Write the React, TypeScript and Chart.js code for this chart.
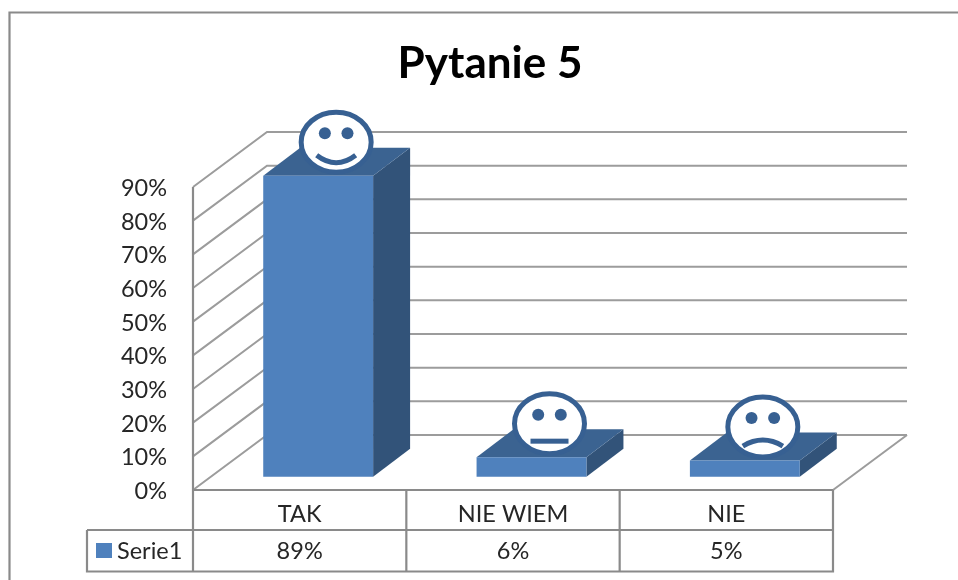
import React, { useEffect, useRef } from "react";
import { Chart, registerables } from "chart.js";

Chart.register(...registerables);

const titleText = "Pytanie 5";
const seriesName = "Serie1";
const categories = ["TAK", "NIE WIEM", "NIE"];
const values = [89.4, 5.8, 4.8];
const moods = ["smile", "neutral", "frown"];

const FONT = "Lato, Carlito, Calibri, sans-serif";
const LABEL_SIZE = 23.5;
const TEXT = "#262626";
const GRID = "#9c9c9c";
const FRAME = "#8a8a8a";
const FRONT = "#4f81bd";
const TOP = "#3b6391";
const SIDE = "#325379";
const FACE = "#376092";

// projection of the pseudo-3D box
const WALL_DX = 74;
const WALL_DY = -55;
const BAR_DX = 18.5;
const BAR_DY = -13.3;
const DEPTH_DX = 37;
const DEPTH_DY = -28;

function line(ctx: CanvasRenderingContext2D, pts: number[][], color: string, w: number) {
  ctx.beginPath();
  pts.forEach((p, i) => (i ? ctx.lineTo(p[0], p[1]) : ctx.moveTo(p[0], p[1])));
  ctx.strokeStyle = color;
  ctx.lineWidth = w;
  ctx.stroke();
}

function poly(ctx: CanvasRenderingContext2D, pts: number[][], color: string) {
  ctx.beginPath();
  pts.forEach((p, i) => (i ? ctx.lineTo(p[0], p[1]) : ctx.moveTo(p[0], p[1])));
  ctx.closePath();
  ctx.fillStyle = color;
  ctx.fill();
}

function drawFace(ctx: CanvasRenderingContext2D, cx: number, cy: number, mood: string) {
  ctx.save();
  ctx.beginPath();
  ctx.ellipse(cx, cy, 35, 30, 0, 0, Math.PI * 2);
  ctx.fillStyle = "#ffffff";
  ctx.fill();
  ctx.strokeStyle = FACE;
  ctx.lineWidth = 5;
  ctx.stroke();
  ctx.fillStyle = FACE;
  [-11.3, 11.3].forEach((dx) => {
    ctx.beginPath();
    ctx.arc(cx + dx, cy - 9, 6, 0, Math.PI * 2);
    ctx.fill();
  });
  ctx.lineWidth = 5;
  ctx.beginPath();
  if (mood === "smile") {
    ctx.moveTo(cx - 19.5, cy + 13);
    ctx.quadraticCurveTo(cx, cy + 28, cx + 19.5, cy + 13);
    ctx.stroke();
  } else if (mood === "neutral") {
    ctx.fillRect(cx - 19, cy + 15, 38, 5);
  } else {
    ctx.moveTo(cx - 20, cy + 19);
    ctx.quadraticCurveTo(cx, cy + 7, cx + 20, cy + 19);
    ctx.stroke();
  }
  ctx.restore();
}

const box3d = {
  id: "box3d",
  beforeDatasetsDraw(chart: any) {
    const { ctx, chartArea: a, scales } = chart;
    const y = scales.y;
    ctx.save();
    // gridlines folded along the side wall and the back wall
    y.ticks.forEach((t: any) => {
      const py = y.getPixelForValue(t.value);
      line(ctx, [[a.left, py], [a.left + WALL_DX, py + WALL_DY], [a.right + WALL_DX, py + WALL_DY]], GRID, 2);
    });
    // floor edge on the right
    line(ctx, [[a.right, a.bottom], [a.right + WALL_DX, a.bottom + WALL_DY]], GRID, 2);
    // side and top of every bar
    chart.getDatasetMeta(0).data.forEach((b: any) => {
      const l = b.x - b.width / 2 + BAR_DX;
      const r = b.x + b.width / 2 + BAR_DX;
      const t = b.y + BAR_DY;
      const bot = b.base + BAR_DY;
      poly(ctx, [[r, t], [r + DEPTH_DX, t + DEPTH_DY], [r + DEPTH_DX, bot + DEPTH_DY], [r, bot]], SIDE);
      poly(ctx, [[l, t], [l + DEPTH_DX, t + DEPTH_DY], [r + DEPTH_DX, t + DEPTH_DY], [r, t]], TOP);
    });
    ctx.restore();
    ctx.save();
    ctx.translate(BAR_DX, BAR_DY);
  },
  afterDatasetsDraw(chart: any) {
    const { ctx } = chart;
    ctx.restore();
    chart.getDatasetMeta(0).data.forEach((b: any, i: number) => {
      drawFace(ctx, b.x + BAR_DX + 18, b.y + BAR_DY - 33.5, moods[i]);
    });
  },
  afterDraw(chart: any) {
    const { ctx, chartArea: a, scales, width, height } = chart;
    const x = scales.x;
    const row1 = a.bottom + 40;
    const row2 = a.bottom + 81.5;
    const keyLeft = 87;
    const step = (a.right - a.left) / categories.length;
    ctx.save();
    // outer frame
    line(ctx, [[9.5, height], [9.5, 12.5], [width, 12.5]], FRAME, 2.2);
    // data table
    line(ctx, [[a.left, a.top], [a.left, row2]], FRAME, 2.2);
    line(ctx, [[a.left, a.bottom], [a.right, a.bottom]], FRAME, 2.2);
    line(ctx, [[keyLeft, row1], [a.right, row1]], FRAME, 2.2);
    line(ctx, [[keyLeft, row1], [keyLeft, row2], [a.right, row2], [a.right, a.bottom]], FRAME, 2.2);
    categories.forEach((_, i) => {
      if (i) line(ctx, [[a.left + step * i, a.bottom], [a.left + step * i, row2]], FRAME, 2.2);
    });
    ctx.fillStyle = FRONT;
    ctx.fillRect(96, row1 + 13, 16, 15);
    ctx.fillStyle = TEXT;
    ctx.font = `${LABEL_SIZE}px ${FONT}`;
    ctx.textBaseline = "middle";
    ctx.textAlign = "left";
    ctx.fillText(seriesName, 117, row1 + 21);
    ctx.textAlign = "center";
    values.forEach((v, i) => {
      ctx.fillText(`${Math.round(v)}%`, x.getPixelForTick(i), row1 + 21);
    });
    ctx.restore();
  },
};

export default function App() {
  const ref = useRef<HTMLCanvasElement | null>(null);
  useEffect(() => {
    const chart = new Chart(ref.current as HTMLCanvasElement, {
      type: "bar",
      data: {
        labels: categories,
        datasets: [
          {
            label: seriesName,
            data: values,
            backgroundColor: FRONT,
            borderWidth: 0,
            categoryPercentage: 1,
            barPercentage: 0.515,
            clip: false,
            yAxisID: "y",
          } as any,
        ],
      },
      plugins: [box3d],
      options: {
        animation: false,
        responsive: false,
        layout: { padding: { left: 22, right: 0, top: 0, bottom: 0 } },
        plugins: {
          legend: { display: false },
          tooltip: { enabled: false },
          title: {
            display: true,
            text: titleText,
            color: "#000000",
            font: { family: FONT, size: 44, weight: "bold", lineHeight: 1.2 },
            padding: { top: 37, bottom: 97.2 },
          },
        },
        scales: {
          x: {
            grid: { display: false, drawTicks: false },
            border: { display: false },
            afterFit(s: any) {
              s.height = 90;
            },
            ticks: {
              color: TEXT,
              font: { family: FONT, size: LABEL_SIZE },
              padding: 10,
              maxRotation: 0,
            },
          },
          y: {
            min: 0,
            max: 90,
            grid: { display: false, drawTicks: false },
            border: { display: false },
            afterFit(s: any) {
              s.width = 171;
            },
            ticks: {
              stepSize: 10,
              color: TEXT,
              font: { family: FONT, size: LABEL_SIZE },
              padding: 26,
              labelOffset: 1.5,
              callback: (v: any) => `${v}%`,
            },
          },
          spacer: {
            position: "right",
            grid: { display: false, drawTicks: false },
            border: { display: false },
            ticks: { display: false },
            afterFit(s: any) {
              s.width = 125;
            },
          },
        },
      } as any,
    });
    return () => chart.destroy();
  }, []);
  return (
    <div style={{ position: "absolute", left: 0, top: 0, width: 958, height: 580, background: "#fff" }}>
      <canvas ref={ref} width={958} height={580} style={{ display: "block", filter: "blur(0.45px)" }} />
    </div>
  );
}
